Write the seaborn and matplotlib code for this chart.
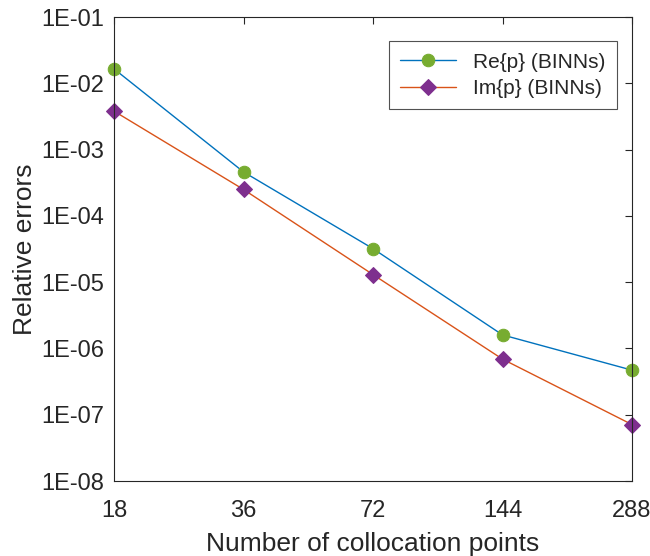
import numpy as np
import pandas as pd
import seaborn as sns
import matplotlib
matplotlib.use("Agg")
import matplotlib.pyplot as plt
from matplotlib.ticker import FixedLocator, FixedFormatter, NullLocator

# values
n_points = [18, 36, 72, 144, 288]
re_err = [1.65e-2, 4.6e-4, 3.2e-5, 1.6e-6, 4.7e-7]
im_err = [3.8e-3, 2.5e-4, 1.3e-5, 6.9e-7, 7.1e-8]
y_ticks = [1e-8, 1e-7, 1e-6, 1e-5, 1e-4, 1e-3, 1e-2, 1e-1]
y_labels = ["1E-08", "1E-07", "1E-06", "1E-05", "1E-04", "1E-03", "1E-02", "1E-01"]

df = pd.DataFrame({
    "n": n_points * 2,
    "err": re_err + im_err,
    "series": ["Re{p} (BINNs)"] * 5 + ["Im{p} (BINNs)"] * 5,
})

sns.set_style("white")
plt.rcParams['font.family'] = ['Liberation Sans', 'DejaVu Sans']

fig = plt.figure(figsize=(6.5, 5.56), dpi=100)
ax = fig.add_axes([114 / 650, 1 - 481 / 556, (632 - 114) / 650, (481 - 17) / 556])

styles = {
    "Re{p} (BINNs)": dict(color="#0072BD", marker="o", mfc="#77AC30", mec="#77AC30", ms=9),
    "Im{p} (BINNs)": dict(color="#D95319", marker="D", mfc="#7E2F8E", mec="#7E2F8E", ms=8),
}
for name, sub in df.groupby("series", sort=False):
    st = styles[name]
    sns.lineplot(data=sub, x="n", y="err", ax=ax, color=st["color"], lw=1,
                 label=name, estimator=None)
    line = ax.get_lines()[-1]
    line.set_marker(st["marker"])
    line.set_markerfacecolor(st["mfc"])
    line.set_markeredgecolor(st["mec"])
    line.set_markersize(st["ms"])
    line.set_clip_on(False)

ax.set_xscale("log")
ax.set_yscale("log")
ax.set_xlim(18, 288)
ax.set_ylim(1e-8, 1e-1)
ax.xaxis.set_major_locator(FixedLocator(n_points))
ax.xaxis.set_major_formatter(FixedFormatter([str(v) for v in n_points]))
ax.xaxis.set_minor_locator(NullLocator())
ax.yaxis.set_major_locator(FixedLocator(y_ticks))
ax.yaxis.set_major_formatter(FixedFormatter(y_labels))
ax.yaxis.set_minor_locator(NullLocator())
ax.tick_params(direction="in", length=5, width=0.8, labelsize=17, colors="#262626",
               top=True, right=True)
ax.tick_params(axis="x", pad=14)
ax.tick_params(axis="y", pad=7)
for sp in ax.spines.values():
    sp.set_color("#262626")
    sp.set_linewidth(0.8)

ax.set_xlabel("Number of collocation points", fontsize=19, color="#262626", labelpad=7)
ax.set_ylabel("Relative errors", fontsize=19, color="#262626", labelpad=3)

leg = ax.legend(loc="upper right", bbox_to_anchor=(0.971, 0.948), fontsize=15,
                frameon=True, fancybox=False, edgecolor="#262626", borderpad=0.55,
                handlelength=2.7, labelspacing=0.35, borderaxespad=0)
leg.get_frame().set_linewidth(0.8)

fig.savefig("out.png", dpi=100)
